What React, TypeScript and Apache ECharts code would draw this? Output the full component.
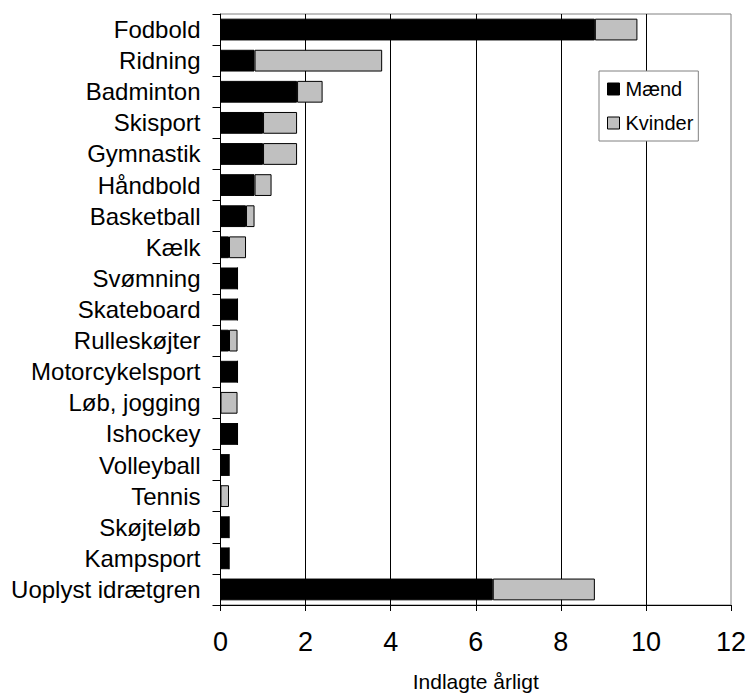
import React, { useEffect, useRef } from "react";
import * as echarts from "echarts";

const categories = [
  "Fodbold",
  "Ridning",
  "Badminton",
  "Skisport",
  "Gymnastik",
  "Håndbold",
  "Basketball",
  "Kælk",
  "Svømning",
  "Skateboard",
  "Rulleskøjter",
  "Motorcykelsport",
  "Løb, jogging",
  "Ishockey",
  "Volleyball",
  "Tennis",
  "Skøjteløb",
  "Kampsport",
  "Uoplyst idrætgren",
];
const maend = [8.8, 0.8, 1.8, 1.0, 1.0, 0.8, 0.6, 0.2, 0.4, 0.4, 0.2, 0.4, 0, 0.4, 0.2, 0, 0.2, 0.2, 6.4];
const kvinder = [1.0, 3.0, 0.6, 0.8, 0.8, 0.4, 0.2, 0.4, 0, 0, 0.2, 0, 0.4, 0, 0, 0.2, 0, 0, 2.4];
const xTicks = { min: 0, max: 12, interval: 2 };
const xName = "Indlagte årligt";

const FONT = "'Liberation Sans', Arial, sans-serif";

export default function App() {
  const ref = useRef<HTMLDivElement>(null);
  useEffect(() => {
    if (!ref.current) return;
    const chart = echarts.init(ref.current, null, { renderer: "svg" });
    chart.setOption({
      animation: false,
      backgroundColor: "#fff",
      textStyle: { fontFamily: FONT },
      grid: {
        left: 220.5,
        top: 14,
        right: 19,
        bottom: 89.3,
        show: true,
        borderColor: "#808080",
        borderWidth: 1,
        backgroundColor: "transparent",
      },
      legend: {
        orient: "vertical",
        left: 599,
        top: 71,
        data: ["Mænd", "Kvinder"],
        backgroundColor: "#fff",
        borderColor: "#808080",
        borderWidth: 1,
        borderRadius: 0,
        padding: [8, 5, 8, 8],
        itemGap: 14,
        itemWidth: 12,
        itemHeight: 12,
        icon: "rect",
        itemStyle: { borderColor: "#000", borderWidth: 1 },
        textStyle: { fontSize: 20, color: "#000", fontFamily: FONT, padding: [0, 0, 0, 1] },
      },
      xAxis: {
        type: "value",
        min: xTicks.min,
        max: xTicks.max,
        interval: xTicks.interval,
        name: xName,
        nameLocation: "middle",
        nameGap: 66,
        nameTextStyle: { fontSize: 21, color: "#000", fontFamily: FONT, verticalAlign: "top" },
        axisLine: { show: true, lineStyle: { color: "#000", width: 1 } },
        axisTick: { show: true, length: 6, lineStyle: { color: "#000" } },
        axisLabel: { fontSize: 27, color: "#000", margin: 23, fontFamily: FONT },
        splitLine: { show: true, showMaxLine: false, showMinLine: false, lineStyle: { color: "#000", width: 1 } },
      },
      yAxis: {
        type: "category",
        data: categories,
        inverse: true,
        axisLine: { show: true, lineStyle: { color: "#000", width: 1 } },
        axisTick: { show: true, length: 8, alignWithLabel: false, interval: 0, lineStyle: { color: "#000" } },
        axisLabel: { fontSize: 24, color: "#000", margin: 20, interval: 0, fontFamily: FONT },
        splitLine: { show: false },
      },
      series: [
        {
          name: "Mænd",
          type: "bar",
          stack: "total",
          data: maend,
          barWidth: "70%",
          itemStyle: { color: "#000", borderColor: "#000", borderWidth: 1 },
        },
        {
          name: "Kvinder",
          type: "bar",
          stack: "total",
          data: kvinder,
          barWidth: "70%",
          itemStyle: { color: "#c0c0c0", borderColor: "#000", borderWidth: 1 },
        },
      ],
    });
    return () => chart.dispose();
  }, []);
  return (
    <div
      ref={ref}
      style={{ position: "fixed", left: 0, top: 0, width: 750, height: 697 }}
    />
  );
}
